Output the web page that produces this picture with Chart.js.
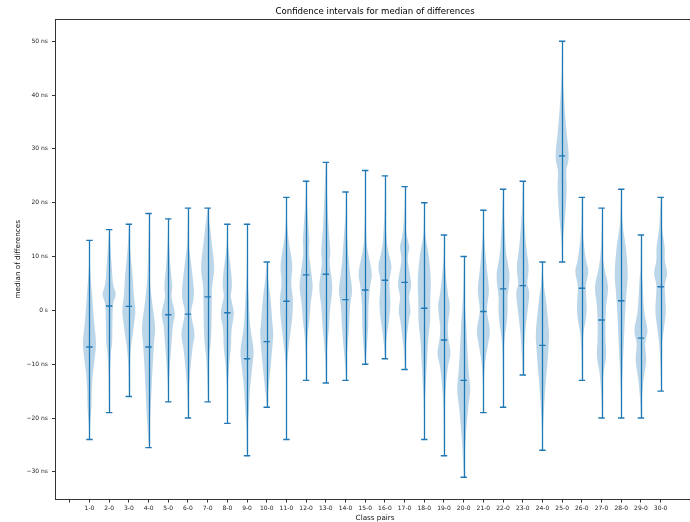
<!DOCTYPE html>
<html>
<head>
<meta charset="utf-8">
<title>Confidence intervals for median of differences</title>
<script src="https://cdn.jsdelivr.net/npm/chart.js@4.4.0/dist/chart.umd.min.js"></script>
<style>
    html, body { margin: 0; padding: 0; background: #fff; overflow: hidden; }
    canvas { display: block; }
</style>
</head>
<body>
<canvas id="chart" width="700" height="522"></canvas>
<script>
// --- DATA (ns) ---
const pairs = ['1-0', '2-0', '3-0', '4-0', '5-0', '6-0', '7-0', '8-0', '9-0', '10-0',
    '11-0', '12-0', '13-0', '14-0', '15-0', '16-0', '17-0', '18-0', '19-0', '20-0',
    '21-0', '22-0', '23-0', '24-0', '25-0', '26-0', '27-0', '28-0', '29-0', '30-0'];
const positions = [1, 2, 3, 4, 5, 6, 7, 8, 9, 10, 11, 12, 13, 14, 15,
    16, 17, 18, 19, 20, 21, 22, 23, 24, 25, 26, 27, 28, 29, 30];
const mins = [-24, -19, -16, -25.5, -17, -20, -17, -21, -27, -18, -24, -13, -13.5, -13, -10,
    -9, -11, -24, -27, -31, -19, -18, -12, -26, 9, -13, -20, -20, -20, -15];
const maxes = [13, 15, 16, 18, 17, 19, 19, 16, 16, 9, 21, 24, 27.5, 22, 26,
    25, 23, 20, 14, 10, 18.6, 22.5, 24, 9, 50, 21, 19, 22.5, 14, 21];
const medians = [-6.8, 0.8, 0.75, -6.8, -0.8, -0.7, 2.5, -0.45, -9, -5.8, 1.7, 6.6, 6.7, 2, 3.8,
    5.6, 5.2, 0.4, -5.5, -13, -0.2, 4, 4.6, -6.5, 28.7, 4.1, -1.8, 1.8, -5.15, 4.4];
// violin outline: [value, relative half width], top to bottom
const densities = [
    [[13,0],[9,0.05],[6,0.2],[2,0.45],[-2,0.7],[-6,1],[-9,0.8],[-12,0.5],[-15,0.35],[-18,0.3],[-21,0.12],[-24,0]],
    [[15,0],[13,0.12],[9,0.35],[5,0.6],[3,1],[1,0.6],[-3,0.5],[-6,0.45],[-8,0.25],[-12,0.1],[-16,0.05],[-19,0]],
    [[16,0],[13,0.1],[10,0.3],[6,0.6],[3,0.75],[0,1],[-2,0.85],[-4.5,0.6],[-7,0.3],[-10,0.1],[-13,0.04],[-16,0]],
    [[18,0],[12,0.05],[6,0.2],[2,0.5],[-3,1],[-6,0.85],[-10,0.65],[-15,0.45],[-20,0.25],[-23,0.1],[-25.5,0]],
    [[17,0],[13,0.1],[8,0.35],[4.5,0.6],[2.5,0.5],[-0.5,1],[-3,0.7],[-7,0.45],[-11,0.2],[-14,0.07],[-17,0]],
    [[19,0],[13,0.1],[10,0.35],[7,0.65],[4,0.9],[2,0.85],[-0.5,0.5],[-4.3,1],[-7,0.7],[-10.5,0.4],[-13,0.22],[-17,0.06],[-20,0]],
    [[19,0],[16.5,0.25],[13,0.6],[8,1],[4.5,0.7],[2,0.65],[-2,0.6],[-5.5,0.5],[-8.5,0.25],[-12,0.08],[-17,0]],
    [[16,0],[12,0.12],[7,0.6],[4.4,0.7],[2.5,0.55],[-0.5,1],[-3.6,0.65],[-6.8,0.55],[-10.5,0.25],[-15,0.06],[-21,0]],
    [[16,0],[8,0.03],[2,0.25],[-3,0.5],[-7.4,1],[-10.5,0.8],[-14,0.5],[-18,0.3],[-22,0.1],[-27,0]],
    [[9,0],[6,0.2],[2,0.6],[-2,0.85],[-4.3,1],[-7,0.85],[-10.5,0.6],[-14,0.3],[-16,0.12],[-18,0]],
    [[21,0],[17,0.06],[13,0.35],[10,0.75],[8,0.9],[5,0.75],[2,1],[-1.2,0.9],[-4.3,0.6],[-8,0.25],[-12,0.06],[-24,0]],
    [[24,0],[20,0.12],[15,0.4],[13,0.5],[10.5,0.45],[7,0.8],[4.4,1],[1.3,0.7],[-1.8,0.5],[-5,0.2],[-9,0.05],[-13,0]],
    [[27.5,0],[23,0.15],[16,0.4],[11,0.7],[8.7,0.6],[4.4,1],[0.7,0.7],[-3,0.5],[-6.2,0.25],[-10,0.06],[-13.5,0]],
    [[22,0],[17,0.06],[13.7,0.25],[9.4,0.5],[7,0.7],[3.7,1],[0.7,0.7],[-3,0.55],[-6.8,0.3],[-10,0.08],[-13,0]],
    [[26,0],[18,0.05],[13,0.2],[11,0.4],[7,1],[4.4,0.75],[0.7,0.5],[-3,0.45],[-6.8,0.25],[-10,0]],
    [[25,0],[19,0.04],[13,0.3],[10.6,0.6],[8.1,1],[5.6,0.7],[3.2,0.75],[1.3,0.85],[-1.2,0.7],[-4.3,0.35],[-7,0.1],[-9,0]],
    [[23,0],[18,0.06],[14.3,0.3],[11.8,0.7],[9.3,0.5],[5,1],[2.5,0.7],[0,0.9],[-2.4,0.6],[-5.5,0.3],[-8,0.08],[-11,0]],
    [[20,0],[15,0.1],[13,0.28],[10,0.7],[5.6,1],[1.9,0.92],[-1.8,0.9],[-5.5,0.6],[-8.6,0.45],[-13,0.25],[-17,0.1],[-24,0]],
    [[14,0],[10,0.05],[7,0.25],[3.2,0.6],[0.7,0.9],[-3,0.6],[-5.5,0.7],[-8,1],[-10.5,0.6],[-14,0.3],[-18,0.1],[-27,0]],
    [[10,0],[4,0.06],[0.7,0.2],[-3,0.4],[-8,0.6],[-11.7,0.8],[-14.8,1],[-18,0.7],[-23,0.35],[-27,0.12],[-31,0]],
    [[18.6,0],[14,0.1],[8.7,0.45],[3.8,0.85],[0,0.55],[-3.7,1],[-6.8,0.65],[-10,0.25],[-14,0.06],[-19,0]],
    [[22.5,0],[17.4,0.15],[12,0.4],[10,0.55],[6.3,1],[2.5,0.7],[0,0.7],[-2.4,0.55],[-5,0.25],[-9,0.06],[-18,0]],
    [[24,0],[18.7,0.12],[12.4,0.5],[8.1,0.9],[5,0.7],[3.2,1],[0,0.75],[-3.7,0.4],[-7.4,0.18],[-12,0]],
    [[9,0],[5,0.2],[1.3,0.6],[-4,1],[-6.5,0.95],[-10,0.75],[-13.5,0.5],[-18,0.25],[-22,0.08],[-26,0]],
    [[50,0],[45,0.05],[41,0.2],[37.2,0.4],[33.5,0.65],[28.6,1],[26,0.65],[23,0.7],[19.9,0.6],[16.2,0.35],[13,0.12],[9,0]],
    [[21,0],[16,0.08],[13,0.25],[9.3,0.65],[7.2,1],[4.4,0.62],[0.7,0.75],[-1.8,0.6],[-4.3,0.25],[-8,0.06],[-13,0]],
    [[19,0],[12,0.08],[8.1,0.4],[4.4,1],[0.7,0.7],[-3,0.6],[-5.5,0.62],[-8.6,0.7],[-11.7,0.3],[-15,0.08],[-20,0]],
    [[22.5,0],[16,0.22],[11.8,0.7],[6.9,1],[3.2,0.8],[-0.6,0.6],[-5.5,0.42],[-10.5,0.22],[-15,0.08],[-20,0]],
    [[14,0],[8,0.05],[5.6,0.22],[0,0.5],[-3.7,1],[-6.2,0.65],[-9.3,0.8],[-12.9,0.4],[-16.7,0.12],[-20,0]],
    [[21,0],[15.6,0.2],[11.8,0.62],[9.3,0.65],[6.9,1],[4.4,0.65],[0,0.8],[-3,0.55],[-6.2,0.22],[-10,0.05],[-15,0]]
];
const xTicks = [0, 1, 2, 3, 4, 5, 6, 7, 8, 9, 10, 11, 12, 13, 14, 15,
    16, 17, 18, 19, 20, 21, 22, 23, 24, 25, 26, 27, 28, 29, 30];
const yTicks = [-30, -20, -10, 0, 10, 20, 30, 40, 50];

// --- STYLE ---
const C0 = 'rgb(31,119,180)';
const BODY = 'rgba(31,119,180,0.3)';
const HALF = 0.33;           // max half width of a violin, x units
const FONT = 'DejaVu Sans';
const X_MIN = -0.725, X_MAX = 31.725, Y_MIN = -35.05, Y_MAX = 54.05;

function yLabel(v) {
    if (v === 0) return '0 s';
    return (v < 0 ? '\u2212' + Math.abs(v) : v) + ' ns';
}

// Catmull-Rom door de knooppunten
function traceSide(ctx, pts) {
    for (let k = 0; k < pts.length - 1; k++) {
        const p0 = pts[Math.max(k - 1, 0)], p1 = pts[k], p2 = pts[k + 1], p3 = pts[Math.min(k + 2, pts.length - 1)];
        ctx.bezierCurveTo(
            p1.x + (p2.x - p0.x) / 6, p1.y + (p2.y - p0.y) / 6,
            p2.x - (p3.x - p1.x) / 6, p2.y - (p3.y - p1.y) / 6,
            p2.x, p2.y);
    }
}

const violinPlugin = {
    id: 'violins',
    beforeDatasetsDraw(chart) {
        const ctx = chart.ctx, xs = chart.scales.x, ys = chart.scales.y;
        ctx.save();
        // bodies
        densities.forEach((knots, i) => {
            const pos = positions[i];
            const right = knots.map(([v, w]) => ({ x: xs.getPixelForValue(pos + HALF * w), y: ys.getPixelForValue(v) }));
            const left = knots.slice().reverse().map(([v, w]) => ({ x: xs.getPixelForValue(pos - HALF * w), y: ys.getPixelForValue(v) }));
            ctx.beginPath();
            ctx.moveTo(right[0].x, right[0].y);
            traceSide(ctx, right);
            ctx.lineTo(left[0].x, left[0].y);
            traceSide(ctx, left);
            ctx.closePath();
            ctx.fillStyle = BODY;
            ctx.fill();
        });
        // stems min..max
        ctx.strokeStyle = C0;
        ctx.lineWidth = 1.3;
        positions.forEach((pos, i) => {
            const x = Math.round(xs.getPixelForValue(pos)) + 0.5;
            ctx.beginPath();
            ctx.moveTo(x, ys.getPixelForValue(maxes[i]));
            ctx.lineTo(x, ys.getPixelForValue(mins[i]));
            ctx.stroke();
        });
        ctx.restore();
    }
};

const capStyle = { pointStyle: 'line', pointRadius: 3.2, borderColor: C0, borderWidth: 1.4, showLine: false };

new Chart(document.getElementById('chart'), {
    type: 'scatter',
    data: {
        datasets: [
            { label: 'max', data: positions.map((p, i) => ({ x: p, y: maxes[i] })), ...capStyle },
            { label: 'min', data: positions.map((p, i) => ({ x: p, y: mins[i] })), ...capStyle },
            { label: 'median', data: positions.map((p, i) => ({ x: p, y: medians[i] })), ...capStyle }
        ]
    },
    options: {
        responsive: false,
        animation: false,
        events: [],
        layout: { padding: { left: 0, right: 2.6, top: 0, bottom: 0 } },
        plugins: {
            legend: { display: false },
            tooltip: { enabled: false }
        },
        scales: {
            x: {
                type: 'linear', position: 'bottom', min: X_MIN, max: X_MAX,
                afterBuildTicks: s => { s.ticks = xTicks.map(v => ({ value: v })); },
                afterFit: s => { s.height = 23; },
                ticks: {
                    autoSkip: false, maxRotation: 0, padding: 2, color: '#222',
                    font: { family: FONT, size: 6 },
                    callback: v => (v === 0 ? '' : pairs[v - 1])
                },
                grid: { drawOnChartArea: false, drawTicks: true, tickLength: 3.5, tickColor: '#333' },
                border: { display: true, color: '#333', width: 1 },
                title: {
                    display: true, text: 'Class pairs', color: '#111',
                    font: { family: FONT, size: 7.2 }, padding: { top: 1.2, bottom: 0 }
                }
            },
            top: {
                type: 'linear', position: 'top', min: X_MIN, max: X_MAX,
                afterFit: s => { s.height = 19.5; },
                ticks: { display: false },
                grid: { display: false, drawOnChartArea: false },
                border: { display: true, color: '#333', width: 1 },
                title: {
                    display: true, text: 'Confidence intervals for median of differences', color: '#000',
                    font: { family: FONT, size: 8.6 }, padding: { top: 7.1, bottom: 0 }
                }
            },
            y: {
                type: 'linear', position: 'left', min: Y_MIN, max: Y_MAX,
                afterBuildTicks: s => { s.ticks = yTicks.map(v => ({ value: v })); },
                afterFit: s => { s.width = 55.5; },
                ticks: {
                    padding: 4, color: '#222',
                    font: { family: FONT, size: 6 },
                    callback: v => yLabel(v)
                },
                grid: { drawOnChartArea: false, drawTicks: true, tickLength: 3.5, tickColor: '#333' },
                border: { display: true, color: '#333', width: 1 },
                title: {
                    display: true, text: 'median of differences', color: '#111',
                    font: { family: FONT, size: 7.2 }, padding: { top: 13.4, bottom: 0 }
                }
            }
        }
    },
    plugins: [violinPlugin]
});
</script>
</body>
</html>
